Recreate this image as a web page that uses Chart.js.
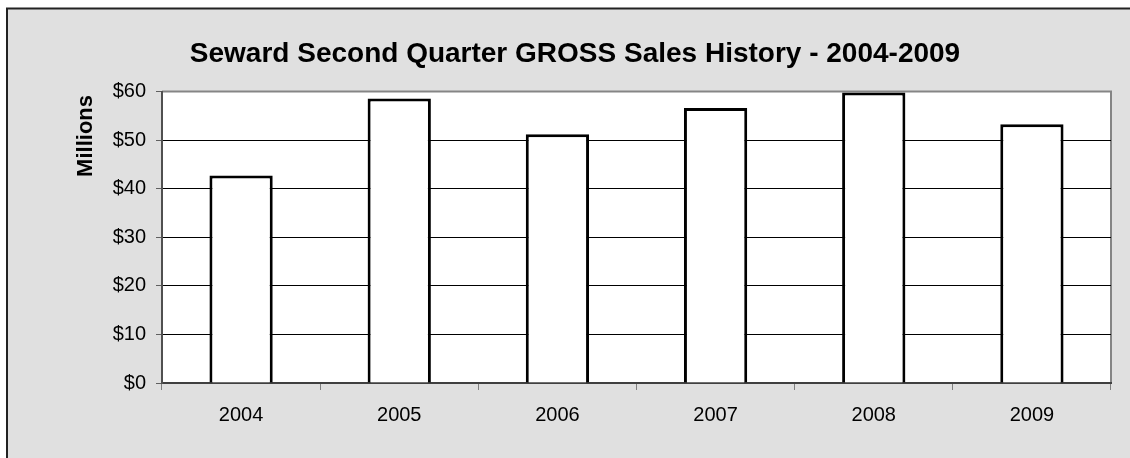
<!DOCTYPE html>
<html>
<head>
<meta charset="utf-8">
<script src="https://cdn.jsdelivr.net/npm/chart.js@4"></script>
<style>
html,body{margin:0;padding:0;background:#fff;}
#wrap{position:relative;width:1130px;height:458px;}
canvas{display:block;}
</style>
</head>
<body>
<div id="wrap"><canvas id="c" width="1130" height="458"></canvas></div>
<script>
const chartTitle = 'Seward Second Quarter GROSS Sales History - 2004-2009';
const yAxisTitle = 'Millions';
const years = ['2004', '2005', '2006', '2007', '2008', '2009'];
const salesMillions = [42.7, 58.6, 51.2, 56.6, 59.8, 53.3];
const yTickValues = [0, 10, 20, 30, 40, 50, 60];

const FONT = "'Liberation Sans', Arial, sans-serif";

const frame = {
  id: 'frame',
  afterLayout(chart) {
    if (chart.titleBlock) {
      chart.titleBlock.left += 31;
    }
  },
  beforeDraw(chart) {
    const ctx = chart.ctx;
    const a = chart.chartArea;
    ctx.save();
    ctx.fillStyle = '#ffffff';
    ctx.fillRect(0, 0, chart.width, chart.height);
    ctx.fillStyle = '#e0e0e0';
    ctx.fillRect(7, 8, chart.width - 7, chart.height - 8);
    ctx.strokeStyle = '#222222';
    ctx.lineWidth = 2;
    ctx.beginPath();
    ctx.moveTo(7, chart.height);
    ctx.lineTo(7, 8.5);
    ctx.lineTo(chart.width, 8.5);
    ctx.stroke();
    ctx.fillStyle = '#ffffff';
    ctx.fillRect(a.left, a.top, a.right - a.left, a.bottom - a.top);
    ctx.strokeStyle = '#858585';
    ctx.lineWidth = 2;
    ctx.beginPath();
    ctx.moveTo(a.left, a.top);
    ctx.lineTo(a.right, a.top);
    ctx.lineTo(a.right, a.bottom);
    ctx.stroke();
    ctx.restore();
  },
  afterDraw(chart) {
    const ctx = chart.ctx;
    ctx.save();
    ctx.translate(86, 95);
    ctx.rotate(-Math.PI / 2);
    ctx.font = 'bold 22px ' + FONT;
    ctx.fillStyle = '#000';
    ctx.textAlign = 'right';
    ctx.textBaseline = 'middle';
    ctx.fillText(yAxisTitle, 0, 0);
    ctx.restore();
  }
};

new Chart(document.getElementById('c'), {
  type: 'bar',
  data: {
    labels: years,
    datasets: [{
      data: salesMillions,
      backgroundColor: '#ffffff',
      borderColor: '#000000',
      borderWidth: 3,
      categoryPercentage: 1,
      barPercentage: 0.4
    }]
  },
  options: {
    responsive: false,
    animation: false,
    layout: { padding: { top: 8, left: 8, right: 19, bottom: 17 } },
    plugins: {
      legend: { display: false },
      tooltip: { enabled: false },
      title: {
        display: true,
        text: chartTitle,
        color: '#000',
        font: { family: FONT, size: 28, weight: 'bold' },
        padding: { top: 29, bottom: 21 }
      }
    },
    scales: {
      x: {
        offset: true,
        grid: { offset: true, drawOnChartArea: false, color: '#808080', tickLength: 7, tickWidth: 1 },
        border: { color: '#404040', width: 2 },
        ticks: { color: '#000', padding: 13.5, font: { family: FONT, size: 20 } }
      },
      y: {
        min: 0,
        max: 60,
        afterFit(scale) { scale.width = 154; },
        afterBuildTicks(scale) { scale.ticks = yTickValues.map(v => ({ value: v })); },
        grid: {
          color: ctx => (ctx.tick && ctx.tick.value === 60) ? 'rgba(0,0,0,0)' : '#000000',
          lineWidth: 1,
          tickColor: '#606060',
          tickLength: 6
        },
        border: { color: '#505050', width: 2 },
        ticks: {
          color: '#000',
          padding: 10,
          font: { family: FONT, size: 20 },
          callback: v => '$' + v
        },
        title: { display: false }
      }
    }
  },
  plugins: [frame]
});
</script>
</body>
</html>
